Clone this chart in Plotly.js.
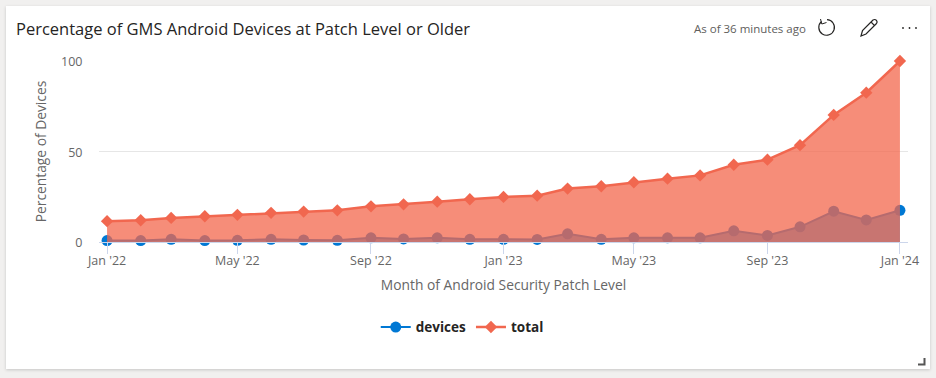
<!DOCTYPE html>
<html><head><meta charset="utf-8">
<script src="https://cdn.plot.ly/plotly-3.0.1.min.js"></script>
<style>
html,body{margin:0;padding:0;width:936px;height:378px;overflow:hidden;background:#f1f0ef;}
#card{position:absolute;left:6px;top:6px;width:924px;height:363px;background:#fff;box-shadow:0 1px 3px rgba(0,0,0,.18);}
#chart{position:absolute;left:0;top:0;width:936px;height:378px;}
#icons{position:absolute;left:0;top:0;pointer-events:none;}
</style></head><body>
<div id="card"></div>
<div id="chart"></div>
<svg id="icons" width="936" height="378" fill="none" stroke="#252423" stroke-width="1.2">
  <path d="M821.5 21.5 A7.8 7.8 0 1 0 827 19.6"/>
  <path d="M820.5 19 L821.8 24 L826.5 22.5" stroke-width="1"/>
  <path d="M861 36 L862.5 30.5 L873 20 Q875 18.8 876.5 20.5 Q877.8 22 876.5 23.5 L866 34 Z M871 22 L874.6 25.6" />
  <circle cx="903" cy="28" r="0.9" fill="#252423" stroke="none"/>
  <circle cx="909.5" cy="28" r="0.9" fill="#252423" stroke="none"/>
  <circle cx="916" cy="28" r="0.9" fill="#252423" stroke="none"/>
  <path d="M918 364.5 H924.5 V358" stroke="#555" stroke-width="2"/>
</svg>
<script>
const months = ["2022-01-01","2022-02-01","2022-03-01","2022-04-01","2022-05-01","2022-06-01","2022-07-01","2022-08-01","2022-09-01","2022-10-01","2022-11-01","2022-12-01","2023-01-01","2023-02-01","2023-03-01","2023-04-01","2023-05-01","2023-06-01","2023-07-01","2023-08-01","2023-09-01","2023-10-01","2023-11-01","2023-12-01","2024-01-01"];
const devices = [0.8,0.8,1.5,0.8,0.9,1.5,1.1,0.9,2.3,1.7,2.3,1.5,1.5,1.4,4.5,1.5,2.3,2.3,2.3,6.2,3.6,8.4,17,12.2,17.5];
const total = [11.5,12,13.3,14.2,15,16.1,16.8,17.5,19.7,20.8,22.3,23.6,24.9,25.6,29.5,30.8,33,35,36.8,42.7,45.5,53.5,70.2,82.5,100];
const xTicks = ["2022-01-01","2022-05-01","2022-09-01","2023-01-01","2023-05-01","2023-09-01","2024-01-01"];
const yTicks = [0,50,100];
const blue = "#0078D4", red = "#F1674F";
const F = "'Open Sans'";
const traces = [
 {x:months,y:devices,mode:"none",fill:"tozeroy",fillcolor:"rgba(0,120,212,0.72)",showlegend:false,hoverinfo:"skip"},
 {x:months,y:devices,name:"devices",mode:"lines+markers",cliponaxis:false,line:{color:blue,width:2},marker:{color:blue,size:11,symbol:"circle"}},
 {x:months,y:total,mode:"none",fill:"tozeroy",fillcolor:"rgba(243,103,76,0.75)",showlegend:false,hoverinfo:"skip"},
 {x:months,y:total,name:"total",mode:"lines+markers",cliponaxis:false,line:{color:red,width:2.5},marker:{color:red,size:9.5,symbol:"diamond"}}
];
const layout = {
 width:936,height:378,paper_bgcolor:"rgba(0,0,0,0)",plot_bgcolor:"rgba(0,0,0,0)",
 margin:{l:99,r:28,t:61,b:135.5,autoexpand:false},
 font:{family:F,color:"#666"},
 title:{text:"Percentage of GMS Android Devices at Patch Level or Older",xref:"container",yref:"container",x:16/936,xanchor:"left",y:1-29/378,yanchor:"middle",font:{family:F,size:16.5,color:"#252423",weight:500}},
 xaxis:{type:"date",range:["2021-12-24 14:00","2024-01-08 10:00"],tickvals:xTicks,tickformat:"%b '%y",ticks:"outside",ticklen:11,tickwidth:1,tickcolor:"#ccd6eb",ticklabelstandoff:-4,showgrid:false,showline:true,linecolor:"#ccd6eb",linewidth:1,zeroline:false,tickfont:{size:12.5,color:"#666"},
   title:{text:"Month of Android Security Patch Level",font:{size:13.8,color:"#666"},standoff:12}},
 yaxis:{range:[0,100],tickvals:yTicks,ticks:"outside",ticklen:13,tickcolor:"rgba(0,0,0,0)",ticklabelshift:1,showgrid:true,gridcolor:"#e6e6e6",gridwidth:1,zeroline:false,showline:false,tickfont:{size:12.5,color:"#666"},
   title:{text:"Percentage of Devices",font:{size:13.8,color:"#666"},standoff:11}},
 legend:{orientation:"h",x:0.449,xanchor:"center",y:-0.471,yanchor:"middle",yref:"paper",font:{size:13.5,color:"#252423",weight:700},itemsizing:"trace",traceorder:"normal",itemwidth:30},
 annotations:[{text:"As of 36 minutes ago",xref:"paper",yref:"paper",x:(808-99)/809,xanchor:"right",y:(242.5-28.5)/181.5,yanchor:"middle",showarrow:false,font:{size:11.5,color:"#605e5c"}}],
 hovermode:false
};
Plotly.newPlot("chart",traces,layout,{displayModeBar:false,staticPlot:true});
</script></body></html>
